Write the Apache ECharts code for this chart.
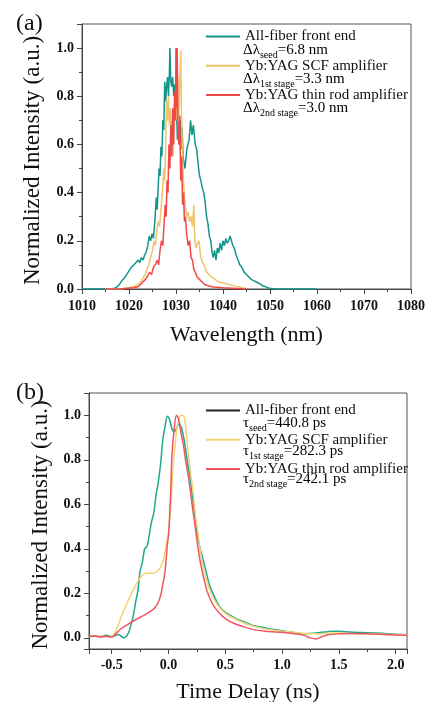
<!DOCTYPE html>
<html>
<head>
<meta charset="utf-8">
<script src="https://cdn.jsdelivr.net/npm/echarts@6/dist/echarts.min.js"></script>
<style>
  html, body { margin: 0; padding: 0; background: #fff; }
  #chart { width: 428px; height: 702px; }
</style>
</head>
<body>
<div id="chart"></div>
<script>
// (a) spectra: wavelength (nm) / normalized intensity
var seedWl = [1010, 1012, 1014, 1016, 1017, 1017.5, 1018, 1018.5, 1019, 1019.5, 1020, 1020.5, 1021, 1021.5, 1022, 1022.3, 1022.6, 1023, 1023.3, 1023.6, 1024, 1024.3, 1024.6, 1024.9, 1025.2, 1025.5, 1025.8, 1026, 1026.2, 1026.4, 1026.6, 1026.8, 1027, 1027.2, 1027.4, 1027.6, 1027.8, 1028, 1028.2, 1028.4, 1028.6, 1028.7, 1028.9, 1029.1, 1029.3, 1029.5, 1029.7, 1029.9, 1030.1, 1030.3, 1030.5, 1030.7, 1030.9, 1031.1, 1031.3, 1031.5, 1031.9, 1032.3, 1032.8, 1033.1, 1033.4, 1033.7, 1034.1, 1034.4, 1034.7, 1035, 1035.3, 1035.6, 1035.9, 1036.2, 1036.5, 1036.8, 1037.1, 1037.4, 1037.7, 1037.9, 1038.2, 1038.5, 1038.8, 1039.1, 1039.4, 1039.7, 1040, 1040.3, 1040.6, 1040.9, 1041.2, 1041.5, 1041.8, 1042.1, 1042.4, 1042.8, 1043.2, 1043.6, 1044, 1044.5, 1045, 1045.5, 1046, 1046.5, 1047, 1047.5, 1048, 1048.5, 1049, 1049.5, 1050, 1051, 1055, 1060];
var seedSpec = [0, 0, 0, 0, 0.003, 0.01, 0.02, 0.035, 0.045, 0.06, 0.075, 0.09, 0.1, 0.11, 0.12, 0.11, 0.13, 0.12, 0.14, 0.15, 0.18, 0.22, 0.2, 0.23, 0.21, 0.28, 0.38, 0.33, 0.42, 0.5, 0.47, 0.59, 0.55, 0.7, 0.66, 0.86, 0.78, 0.84, 0.88, 0.8, 0.9, 1.0, 0.86, 0.84, 0.88, 0.8, 0.85, 0.7, 0.75, 0.62, 0.65, 0.6, 0.7, 0.58, 0.67, 0.55, 0.5, 0.58, 0.62, 0.7, 0.64, 0.68, 0.6, 0.58, 0.52, 0.47, 0.45, 0.42, 0.4, 0.36, 0.3, 0.27, 0.22, 0.2, 0.15, 0.13, 0.16, 0.12, 0.17, 0.15, 0.19, 0.16, 0.2, 0.18, 0.21, 0.19, 0.2, 0.22, 0.2, 0.18, 0.17, 0.14, 0.12, 0.1, 0.09, 0.07, 0.06, 0.05, 0.04, 0.035, 0.03, 0.025, 0.02, 0.012, 0.01, 0.005, 0.003, 0, 0, 0];

var stage1Wl = [1015, 1018, 1020, 1021, 1021.5, 1022, 1022.5, 1023, 1023.4, 1023.8, 1024.2, 1024.6, 1025, 1025.3, 1025.6, 1025.9, 1026.2, 1026.5, 1026.8, 1027.1, 1027.4, 1027.6, 1027.8, 1028, 1028.2, 1028.4, 1028.6, 1028.8, 1029, 1029.2, 1029.4, 1029.6, 1029.8, 1030, 1030.2, 1030.4, 1030.6, 1030.8, 1031, 1031.2, 1031.4, 1031.6, 1031.8, 1032, 1032.3, 1032.6, 1032.9, 1033.2, 1033.5, 1033.8, 1034, 1034.3, 1034.6, 1034.9, 1035.2, 1035.6, 1036, 1036.5, 1037, 1037.5, 1038, 1039, 1040, 1041, 1042, 1043, 1044, 1045];
var stage1Spec = [0, 0, 0.005, 0.01, 0.015, 0.02, 0.03, 0.045, 0.06, 0.08, 0.1, 0.13, 0.16, 0.2, 0.18, 0.24, 0.28, 0.26, 0.33, 0.4, 0.5, 0.45, 0.6, 0.78, 0.7, 0.8, 0.68, 0.75, 0.62, 0.7, 0.55, 0.72, 0.8, 0.7, 0.78, 0.88, 0.72, 0.85, 0.99, 0.7, 0.55, 0.45, 0.38, 0.34, 0.3, 0.32, 0.28, 0.3, 0.26, 0.35, 0.2, 0.17, 0.19, 0.2, 0.14, 0.11, 0.1, 0.07, 0.06, 0.05, 0.045, 0.03, 0.025, 0.02, 0.015, 0.01, 0.005, 0.003];

var stage2Wl = [1015, 1018, 1021, 1022, 1022.5, 1023, 1023.5, 1024, 1024.4, 1024.8, 1025.2, 1025.6, 1026, 1026.3, 1026.6, 1026.9, 1027.2, 1027.5, 1027.7, 1027.9, 1028.1, 1028.3, 1028.5, 1028.7, 1028.9, 1029.1, 1029.3, 1029.5, 1029.7, 1029.9, 1030, 1030.1, 1030.25, 1030.4, 1030.6, 1030.8, 1031, 1031.2, 1031.4, 1031.6, 1031.8, 1032, 1032.3, 1032.6, 1032.9, 1033.2, 1033.5, 1033.8, 1034.1, 1034.5, 1035, 1035.5, 1036, 1037, 1038, 1040, 1042, 1045];
var stage2Spec = [0, 0, 0.005, 0.01, 0.02, 0.03, 0.04, 0.055, 0.07, 0.06, 0.09, 0.1, 0.12, 0.1, 0.16, 0.2, 0.18, 0.28, 0.35, 0.3, 0.45, 0.4, 0.6, 0.5, 0.68, 0.55, 0.75, 0.6, 0.82, 0.7, 1.0, 0.75, 1.0, 0.7, 0.6, 0.72, 0.45, 0.55, 0.35, 0.4, 0.28, 0.3, 0.22, 0.18, 0.2, 0.13, 0.12, 0.08, 0.07, 0.05, 0.04, 0.03, 0.02, 0.012, 0.008, 0.005, 0.003, 0];

// (b) temporal profiles: time delay (ns) / normalized intensity
var seedT = [-0.7, -0.65, -0.6, -0.55, -0.5, -0.47, -0.44, -0.41, -0.39, -0.37, -0.35, -0.33, -0.31, -0.29, -0.27, -0.25, -0.23, -0.21, -0.19, -0.17, -0.15, -0.13, -0.11, -0.09, -0.07, -0.05, -0.03, -0.01, 0.01, 0.03, 0.05, 0.07, 0.09, 0.11, 0.13, 0.15, 0.17, 0.19, 0.21, 0.23, 0.25, 0.27, 0.3, 0.33, 0.36, 0.4, 0.45, 0.5, 0.55, 0.6, 0.65, 0.7, 0.75, 0.8, 0.85, 0.9, 0.95, 1.0, 1.05, 1.1, 1.15, 1.2, 1.25, 1.3, 1.35, 1.4, 1.45, 1.5, 1.55, 1.6, 1.7, 1.8, 1.9, 2.0, 2.1];
var seedPulse = [0.005, 0.01, 0.005, 0.012, 0.006, 0.01, 0.015, 0.004, 0.0, 0.008, 0.025, 0.06, 0.1, 0.16, 0.21, 0.3, 0.34, 0.4, 0.41, 0.46, 0.52, 0.56, 0.64, 0.7, 0.78, 0.89, 0.95, 0.995, 0.98, 0.94, 0.925, 0.94, 0.96, 0.95, 0.91, 0.85, 0.78, 0.72, 0.64, 0.56, 0.48, 0.42, 0.36, 0.3, 0.24, 0.19, 0.14, 0.115, 0.1, 0.085, 0.075, 0.065, 0.055, 0.05, 0.045, 0.04, 0.036, 0.032, 0.028, 0.024, 0.02, 0.018, 0.02, 0.022, 0.025, 0.028, 0.03, 0.03, 0.028, 0.026, 0.024, 0.022, 0.02, 0.016, 0.014];

var stage1T = [-0.7, -0.6, -0.55, -0.5, -0.48, -0.46, -0.44, -0.42, -0.4, -0.37, -0.34, -0.31, -0.28, -0.25, -0.22, -0.19, -0.16, -0.13, -0.1, -0.08, -0.06, -0.04, -0.02, 0.0, 0.02, 0.04, 0.06, 0.08, 0.1, 0.12, 0.14, 0.16, 0.18, 0.2, 0.22, 0.24, 0.26, 0.28, 0.3, 0.33, 0.36, 0.4, 0.45, 0.5, 0.55, 0.6, 0.65, 0.7, 0.8, 0.9, 1.0, 1.1, 1.2, 1.3, 1.4, 1.5, 1.6, 1.8, 2.0, 2.1];
var stage1Pulse = [0.005, 0.008, 0.006, 0.005, 0.015, 0.035, 0.06, 0.09, 0.115, 0.15, 0.185, 0.215, 0.245, 0.27, 0.285, 0.29, 0.29, 0.29, 0.3, 0.31, 0.33, 0.36, 0.42, 0.47, 0.6, 0.76, 0.88, 0.96, 0.995, 1.0, 0.99, 0.9, 0.8, 0.72, 0.64, 0.54, 0.47, 0.39, 0.33, 0.27, 0.22, 0.175, 0.135, 0.11, 0.095, 0.082, 0.07, 0.06, 0.046, 0.036, 0.03, 0.025, 0.02, 0.018, 0.02, 0.022, 0.02, 0.018, 0.015, 0.014];

var stage2T = [-0.7, -0.65, -0.6, -0.55, -0.5, -0.48, -0.45, -0.42, -0.39, -0.36, -0.33, -0.3, -0.27, -0.24, -0.21, -0.18, -0.15, -0.12, -0.09, -0.07, -0.05, -0.03, -0.01, 0.0, 0.01, 0.02, 0.03, 0.05, 0.07, 0.09, 0.11, 0.13, 0.15, 0.17, 0.19, 0.21, 0.23, 0.25, 0.28, 0.31, 0.34, 0.38, 0.42, 0.47, 0.52, 0.57, 0.65, 0.75, 0.85, 0.95, 1.05, 1.15, 1.2, 1.25, 1.3, 1.35, 1.4, 1.5, 1.6, 1.7, 1.8, 1.9, 2.0, 2.1];
var stage2Pulse = [0.005, 0.008, 0.004, 0.007, 0.004, 0.01, 0.025, 0.04, 0.05, 0.06, 0.07, 0.078, 0.087, 0.095, 0.103, 0.112, 0.122, 0.135, 0.16, 0.19, 0.24, 0.3, 0.42, 0.46, 0.55, 0.66, 0.82, 0.94, 1.0, 0.98, 0.92, 0.87, 0.8, 0.74, 0.67, 0.59, 0.52, 0.44, 0.34, 0.27, 0.21, 0.16, 0.128, 0.1, 0.08, 0.067, 0.052, 0.037, 0.03, 0.026, 0.022, 0.016, 0.01, 0.0, -0.005, 0.005, 0.013, 0.018, 0.02, 0.019, 0.017, 0.015, 0.013, 0.012];

var names = ['All-fiber front end', 'Yb:YAG SCF amplifier', 'Yb:YAG thin rod amplifier'];
var colorsA = ['#14958a', '#efc46c', '#f04848'];
var colorsB = ['#1fa88c', '#f2d474', '#ef5563'];

function zip(xs, ys) {
  return xs.map(function (x, i) { return [x, ys[i]]; });
}

var serif = '"Liberation Serif", "Times New Roman", serif';

var chart = echarts.init(document.getElementById('chart'), null, { renderer: 'canvas' });

// label only the "round" ticks (step), so extent ticks stay blank
function roundLabel(step, lo, hi) {
  return function (v) {
    var k = v / step;
    if (Math.abs(k - Math.round(k)) > 1e-6 || v < lo - 1e-6 || v > hi + 1e-6) return '';
    return step < 1 ? v.toFixed(1) : String(Math.round(v));
  };
}

function axisX(gridIndex, min, max, opts, name, gap, margin) {
  var ax = {
    type: 'value', gridIndex: gridIndex, min: min, max: max,
    name: name, nameLocation: 'middle', nameGap: gap,
    nameTextStyle: { fontFamily: serif, fontSize: 22, color: '#111' },
    axisLine: { show: true, onZero: false, lineStyle: { color: '#444', width: 1 } },
    axisTick: { show: true, inside: false, length: 5, lineStyle: { color: '#444' } },
    minorTick: { show: true, splitNumber: 2, length: 3, lineStyle: { color: '#444' } },
    axisLabel: { fontFamily: serif, fontWeight: 'bold', fontSize: 14, color: '#111', margin: margin,
      formatter: roundLabel(opts.step, min, max) },
    splitLine: { show: false }
  };
  if (opts.interval) ax.interval = opts.interval; else ax.splitNumber = 5;
  return ax;
}

function axisY(gridIndex, min, max, name, gap) {
  return {
    type: 'value', gridIndex: gridIndex, min: min, max: max, splitNumber: 5,
    name: name, nameLocation: 'middle', nameGap: gap,
    nameTextStyle: { fontFamily: serif, fontSize: 23, color: '#111', padding: [0, 8, 0, 0] },
    axisLine: { show: true, onZero: false, lineStyle: { color: '#444', width: 1 } },
    axisTick: { show: true, inside: false, length: 5, lineStyle: { color: '#444' } },
    minorTick: { show: true, splitNumber: 2, length: 3, lineStyle: { color: '#444' } },
    axisLabel: { fontFamily: serif, fontWeight: 'bold', fontSize: 14, color: '#111', margin: 8,
      formatter: roundLabel(0.2, 0, 1.0) },
    splitLine: { show: false }
  };
}

function legendFor(top, colors) {
  return {
    orient: 'vertical', left: 206, top: top, padding: 0, itemGap: 14.3,
    itemWidth: 34, itemHeight: 2, icon: 'rect', selectedMode: false,
    textStyle: { fontFamily: serif, fontSize: 15, color: '#111', lineHeight: 15 },
    data: names.map(function (n, i) {
      return { name: n, itemStyle: { color: colors[i] } };
    })
  };
}

function note(x, y, sym, sub, rest) {
  return {
    type: 'text', left: x, top: y,
    style: {
      text: '{m|' + sym + '}{s|' + sub + '}{m|' + rest + '}',
      rich: {
        m: { fontFamily: serif, fontSize: 15, color: '#111', verticalAlign: 'top', lineHeight: 17 },
        s: { fontFamily: serif, fontSize: 10, color: '#111', verticalAlign: 'bottom', lineHeight: 10 }
      }
    }
  };
}

var seriesList = [];
[[seedWl, seedSpec], [stage1Wl, stage1Spec], [stage2Wl, stage2Spec]].forEach(function (d, i) {
  seriesList.push({
    name: names[i], type: 'line', xAxisIndex: 0, yAxisIndex: 0,
    data: zip(d[0], d[1]), showSymbol: false, symbol: 'none',
    lineStyle: { color: colorsA[i], width: 1.5 }, itemStyle: { color: colorsA[i] },
    animation: false
  });
});
[[seedT, seedPulse], [stage1T, stage1Pulse], [stage2T, stage2Pulse]].forEach(function (d, i) {
  seriesList.push({
    name: names[i], type: 'line', xAxisIndex: 1, yAxisIndex: 1,
    data: zip(d[0], d[1]), showSymbol: false, symbol: 'none', smooth: 0.3,
    lineStyle: { color: colorsB[i], width: 1.5 }, itemStyle: { color: colorsB[i] },
    animation: false
  });
});

var legendB = legendFor(403, colorsB);
legendB.data[0].itemStyle.color = '#222';

chart.setOption({
  backgroundColor: '#fff',
  animation: false,
  title: [
    { text: '(a)', left: 11, top: 7, textStyle: { fontFamily: serif, fontSize: 24, fontWeight: 'normal', color: '#111' } },
    { text: '(b)', left: 11, top: 376, textStyle: { fontFamily: serif, fontSize: 24, fontWeight: 'normal', color: '#111' } }
  ],
  grid: [
    { left: 82, right: 17, top: 24, height: 265, show: true, borderColor: '#555', borderWidth: 1, backgroundColor: 'transparent', outerBoundsMode: 'none' },
    { left: 89, right: 21, top: 393, height: 256, show: true, borderColor: '#555', borderWidth: 1, backgroundColor: 'transparent', outerBoundsMode: 'none' }
  ],
  legend: [legendFor(29, colorsA), legendB],
  xAxis: [
    axisX(0, 1010, 1080, { interval: 10, step: 10 }, 'Wavelength (nm)', 35, 10),
    axisX(1, -0.7, 2.1, { step: 0.5 }, 'Time Delay (ns)', 32, 9)
  ],
  yAxis: [
    axisY(0, 0, 1.1, 'Normalized Intensity (a.u.)', 38),
    axisY(1, -0.05, 1.1, 'Normalized Intensity (a.u.)', 36)
  ],
  graphic: [
    note(243, 43, 'Δλ', 'seed', '=6.8 nm'),
    note(243, 72, 'Δλ', '1st stage', '=3.3 nm'),
    note(243, 101, 'Δλ', '2nd stage', '=3.0 nm'),
    note(243, 416, 'τ', 'seed', '=440.8 ps'),
    note(243, 444, 'τ', '1st stage', '=282.3 ps'),
    note(243, 472, 'τ', '2nd stage', '=242.1 ps')
  ],
  series: seriesList
});
</script>
</body>
</html>
